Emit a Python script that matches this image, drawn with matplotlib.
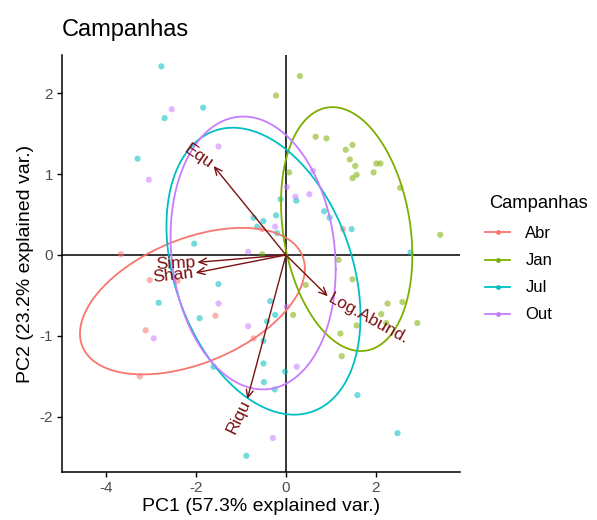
import numpy as np
import matplotlib
matplotlib.use("Agg")
import matplotlib.pyplot as plt
from matplotlib.lines import Line2D

plt.rcParams['font.family'] = ['Liberation Sans', 'DejaVu Sans']

# ---- PCA scores by campaign ----
groups = ["Abr", "Jan", "Jul", "Out"]
colors = ["#F8766D", "#7CAE00", "#00BFC4", "#C77CFF"]

abr_pc1 = [-3.67, -3.03, -2.41, -3.12, -3.25, -1.57, -0.72, 1.27, -0.53]
abr_pc2 = [0.01, -0.31, -0.32, -0.93, -1.50, -0.75, -1.03, 0.32, 0.32]

jan_pc1 = [0.31, -0.22, 0.66, 0.90, 1.48, 1.33, 1.42, 1.54, 2.01, 2.10, 1.95, 1.48,
           1.57, 0.07, 2.54, 3.43, 1.17, 1.48, 0.44, -0.53, 0.16, 2.26, 2.59, 2.12,
           2.23, 2.92, 1.57, 1.21, 1.24]
jan_pc2 = [2.21, 1.97, 1.46, 1.44, 1.36, 1.30, 1.18, 1.10, 1.13, 1.13, 1.02, 0.95,
           0.99, 1.02, 0.83, 0.25, -0.06, -0.30, -0.37, 0.01, -0.74, -0.60, -0.58, -0.73,
           -0.84, -0.84, -0.87, -0.97, -1.25]

jul_pc1 = [-2.77, -1.84, -2.70, -3.30, 0.23, -0.12, 0.85, 0.97, -0.22, -0.50, -0.72,
           -0.64, -0.20, 1.46, 2.77, -0.35, -0.24, -0.42, -0.50, -0.50, -0.02, -0.49,
           -0.25, 1.59, 2.48, -1.92, -1.61, -0.88, -2.04, -1.50, -2.83]
jul_pc2 = [2.33, 1.82, 1.69, 1.19, 0.67, 0.69, 0.54, 0.46, 0.49, 0.42, 0.46,
           0.35, 0.27, 0.32, 0.03, -0.57, -0.74, -0.82, -1.06, -1.34, -1.44, -1.57,
           -1.66, -1.73, -2.20, -0.78, -1.38, -2.48, 0.14, -0.36, -0.59]

out_pc1 = [-2.54, -1.50, -3.05, 0.60, 0.02, 0.21, 0.52, -0.24, 0.02, 0.24, -0.29,
           -1.50, -0.84, -2.94, -0.84]
out_pc2 = [1.80, 1.34, 0.93, 1.04, 0.84, 0.72, 0.75, 0.35, -0.64, -1.38, -2.26,
           -0.60, -0.88, -1.03, 0.04]

scores = {
    "Abr": (abr_pc1, abr_pc2),
    "Jan": (jan_pc1, jan_pc2),
    "Jul": (jul_pc1, jul_pc2),
    "Out": (out_pc1, out_pc2),
}

# ---- 68% normal ellipses per campaign: centre, half extents, tilt ----
ell_cx = [-2.08, 1.35, -0.50, -0.73]
ell_cy = [-0.57, 0.32, -0.20, 0.025]
ell_hw = [2.50, 1.46, 2.157, 1.836]      # half extent along PC1
ell_hh = [0.905, 1.506, 1.772, 1.685]    # half extent along PC2
ell_tilt = [0.40, -0.325, -0.56, -0.20]  # PC2 offset at the rightmost point

# ---- variable loadings (arrows) ----
var_names = ["Equ", "Simp", "Shan", "Log.Abund.", "Riqu"]
var_pc1 = [-1.61, -1.97, -2.01, 0.93, -0.86]
var_pc2 = [1.10, -0.09, -0.22, -0.51, -1.78]

W, H = 597, 520
fig = plt.figure(figsize=(W / 100, H / 100), dpi=100)
ax = fig.add_axes([62 / W, 1 - 472 / H, (460 - 62) / W, (472 - 55) / H])

ax.set_xlim(-4.98, 3.87)
ax.set_ylim(-2.68, 2.47)

ax.axhline(0, color="black", lw=1.1, zorder=1)
ax.axvline(0, color="black", lw=1.1, zorder=1)

for g, c in zip(groups, colors):
    px, py = scores[g]
    ax.scatter(px, py, s=20, color=c, alpha=0.55, edgecolors="none", zorder=2)

t = np.linspace(0, 2 * np.pi, 300)
for i, c in enumerate(colors):
    sxx = ell_hw[i] ** 2
    sxy = ell_hw[i] * ell_tilt[i]
    syy = ell_hh[i] ** 2
    L = np.linalg.cholesky(np.array([[sxx, sxy], [sxy, syy]]))
    pts = L @ np.vstack([np.cos(t), np.sin(t)])
    ax.plot(ell_cx[i] + pts[0], ell_cy[i] + pts[1], color=c, lw=1.3, zorder=3)

arrow_col = "#7A1010"
for name, vx, vy in zip(var_names, var_pc1, var_pc2):
    ax.annotate("", xy=(vx, vy), xytext=(0, 0),
                arrowprops=dict(arrowstyle="->,head_length=0.55,head_width=0.25",
                                color=arrow_col, lw=1.0, shrinkA=0, shrinkB=0),
                zorder=4)
    ang = np.degrees(np.arctan(vy / vx))
    ha = "right" if vx < 0 else "left"
    sgn = -1 if vx < 0 else 1
    off = 1.5
    ax.annotate(name, xy=(vx, vy),
                xytext=(sgn * off * np.cos(np.radians(ang)), sgn * off * np.sin(np.radians(ang))),
                textcoords="offset points", rotation=ang, rotation_mode="anchor",
                ha=ha, va="center", color=arrow_col, fontsize=12.5, zorder=5)

ax.spines["top"].set_visible(False)
ax.spines["right"].set_visible(False)
ax.spines["left"].set_linewidth(1.1)
ax.spines["bottom"].set_linewidth(1.1)
ax.set_xticks([-4, -2, 0, 2])
ax.set_yticks([-2, -1, 0, 1, 2])
ax.set_xticklabels(["-4", "-2", "0", "2"])
ax.set_yticklabels(["-2", "-1", "0", "1", "2"])
ax.tick_params(axis="both", length=3.5, width=1.0, color="black",
               labelsize=11, labelcolor="#4D4D4D", pad=3)

ax.set_xlabel("PC1 (57.3% explained var.)", fontsize=14, labelpad=2)
ax.set_ylabel("PC2 (23.2% explained var.)", fontsize=14, labelpad=4)

fig.text(62 / W, 1 - 36 / H, "Campanhas", fontsize=17, ha="left", va="baseline")

# legend: title placed separately, entries below it
fig.text(489 / W, 1 - 203 / H, "Campanhas", fontsize=13.2, ha="left", va="center")
handles = [Line2D([0], [0], color=c, lw=1.3, marker="o", markersize=3.5,
                  markeredgewidth=0) for c in colors]
leg = fig.legend(handles, groups, loc="upper left",
                 bbox_to_anchor=(482 / W, 1 - 223 / H), frameon=False,
                 fontsize=12, handlelength=1.5,
                 handletextpad=0.9, labelspacing=0.72,
                 borderaxespad=0, borderpad=0.2)

fig.savefig("out.png", dpi=100)
